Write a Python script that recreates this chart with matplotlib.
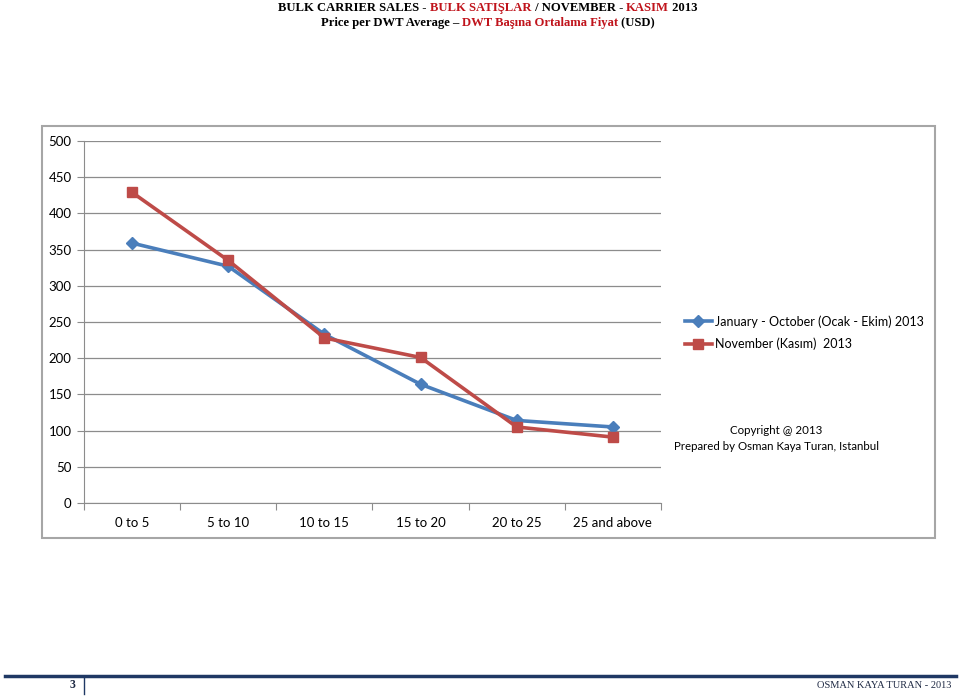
import matplotlib.pyplot as plt
from matplotlib.patches import Rectangle
from matplotlib.lines import Line2D

categories = ['0 to 5', '5 to 10', '10 to 15', '15 to 20', '20 to 25', '25 and above']
jan_oct = [359, 327, 233, 164, 114, 105]
november = [429, 335, 228, 201, 105, 91]
yticks = [0, 50, 100, 150, 200, 250, 300, 350, 400, 450, 500]

BLUE = '#4A7EBB'
RED = '#BE4B48'
TRED = '#C0141C'

fig = plt.figure(figsize=(9.6, 6.96), dpi=100)
W, H = 960, 696

def fx(px):
    return px / W

def fy(py):
    return 1 - py / H

# chart frame
fig.patches.append(Rectangle((fx(42), fy(538)), fx(935) - fx(42), fy(126) - fy(538),
                             transform=fig.transFigure, fill=False,
                             edgecolor='#A6A6A6', lw=1.5))

ax = fig.add_axes([fx(84), fy(503), fx(661) - fx(84), fy(141) - fy(503)])
x = range(len(categories))
ax.plot(x, jan_oct, color=BLUE, lw=2.6, marker='D', ms=6.5,
        label='January - October (Ocak - Ekim) 2013', zorder=3)
ax.plot(x, november, color=RED, lw=2.6, marker='s', ms=7.5,
        label='November (Kasım)  2013', zorder=3)

ax.set_xlim(-0.5, len(categories) - 0.5)
ax.set_ylim(0, 500)
ax.set_yticks(yticks)
ax.set_yticklabels([str(v) for v in yticks], fontfamily='Lato', fontsize=9.5)
ax.yaxis.grid(True, color='#8C8C8C', lw=0.9)
ax.set_axisbelow(True)
ax.set_xticks([i - 0.5 for i in range(len(categories) + 1)])
ax.set_xticklabels([])
ax.set_xticks(list(x), minor=True)
ax.set_xticklabels(categories, minor=True, fontfamily='Lato', fontsize=9.5)
ax.tick_params(axis='x', which='minor', length=0, pad=10)
ax.tick_params(axis='x', which='major', length=5, color='#8C8C8C')
ax.tick_params(axis='y', length=5, color='#8C8C8C', pad=4)
for s in ['top', 'right']:
    ax.spines[s].set_visible(False)
for s in ['left', 'bottom']:
    ax.spines[s].set_color('#8C8C8C')

fig.legend(loc='upper left', bbox_to_anchor=(fx(679), fy(309)), frameon=False,
           prop={'family': 'Lato', 'size': 9}, handlelength=2.1,
           handletextpad=0.3, labelspacing=0.8, borderpad=0)

fig.text(fx(776), fy(431), 'Copyright @ 2013', ha='center', va='center',
         fontfamily='Lato', fontsize=8.3)
fig.text(fx(776), fy(447), 'Prepared by Osman Kaya Turan, Istanbul', ha='center',
         va='center', fontfamily='Lato', fontsize=8.3)

# multi-colour title lines
renderer = fig.canvas.get_renderer()

def colored_line(pieces, cy):
    texts = []
    for s, c in pieces:
        t = fig.text(0, fy(cy), s, color=c, fontfamily='Liberation Serif',
                     fontweight='bold', fontsize=9.1, va='center', ha='left')
        texts.append(t)
    widths = [t.get_window_extent(renderer).width for t in texts]
    total = sum(widths)
    start = 488 - total / 2
    for t, w in zip(texts, widths):
        t.set_x(fx(start))
        start += w

colored_line([('BULK CARRIER SALES - ', 'black'), ('BULK SATIŞLAR', TRED),
              (' / NOVEMBER - ', 'black'), ('KASIM', TRED), (' 2013', 'black')], 8)
colored_line([('Price per DWT Average \u2013 ', 'black'),
              ('DWT Başına Ortalama Fiyat', TRED), (' (USD)', 'black')], 23)

# footer
fig.add_artist(Line2D([fx(5), fx(956)], [fy(676), fy(676)], color='#1F3864', lw=2.5))
fig.add_artist(Line2D([fx(84), fx(84)], [fy(677), fy(694)], color='#1F3864', lw=1))
fig.text(fx(72), fy(685), '3', ha='center', va='center', fontfamily='Liberation Serif',
         fontsize=8.5, fontweight='bold', color='#1F2A44')
fig.text(fx(951), fy(685), 'OSMAN KAYA TURAN - 2013', ha='right', va='center',
         fontfamily='Liberation Serif', fontsize=7.5, color='#1F2A44')

fig.savefig('out.png', dpi=100)
